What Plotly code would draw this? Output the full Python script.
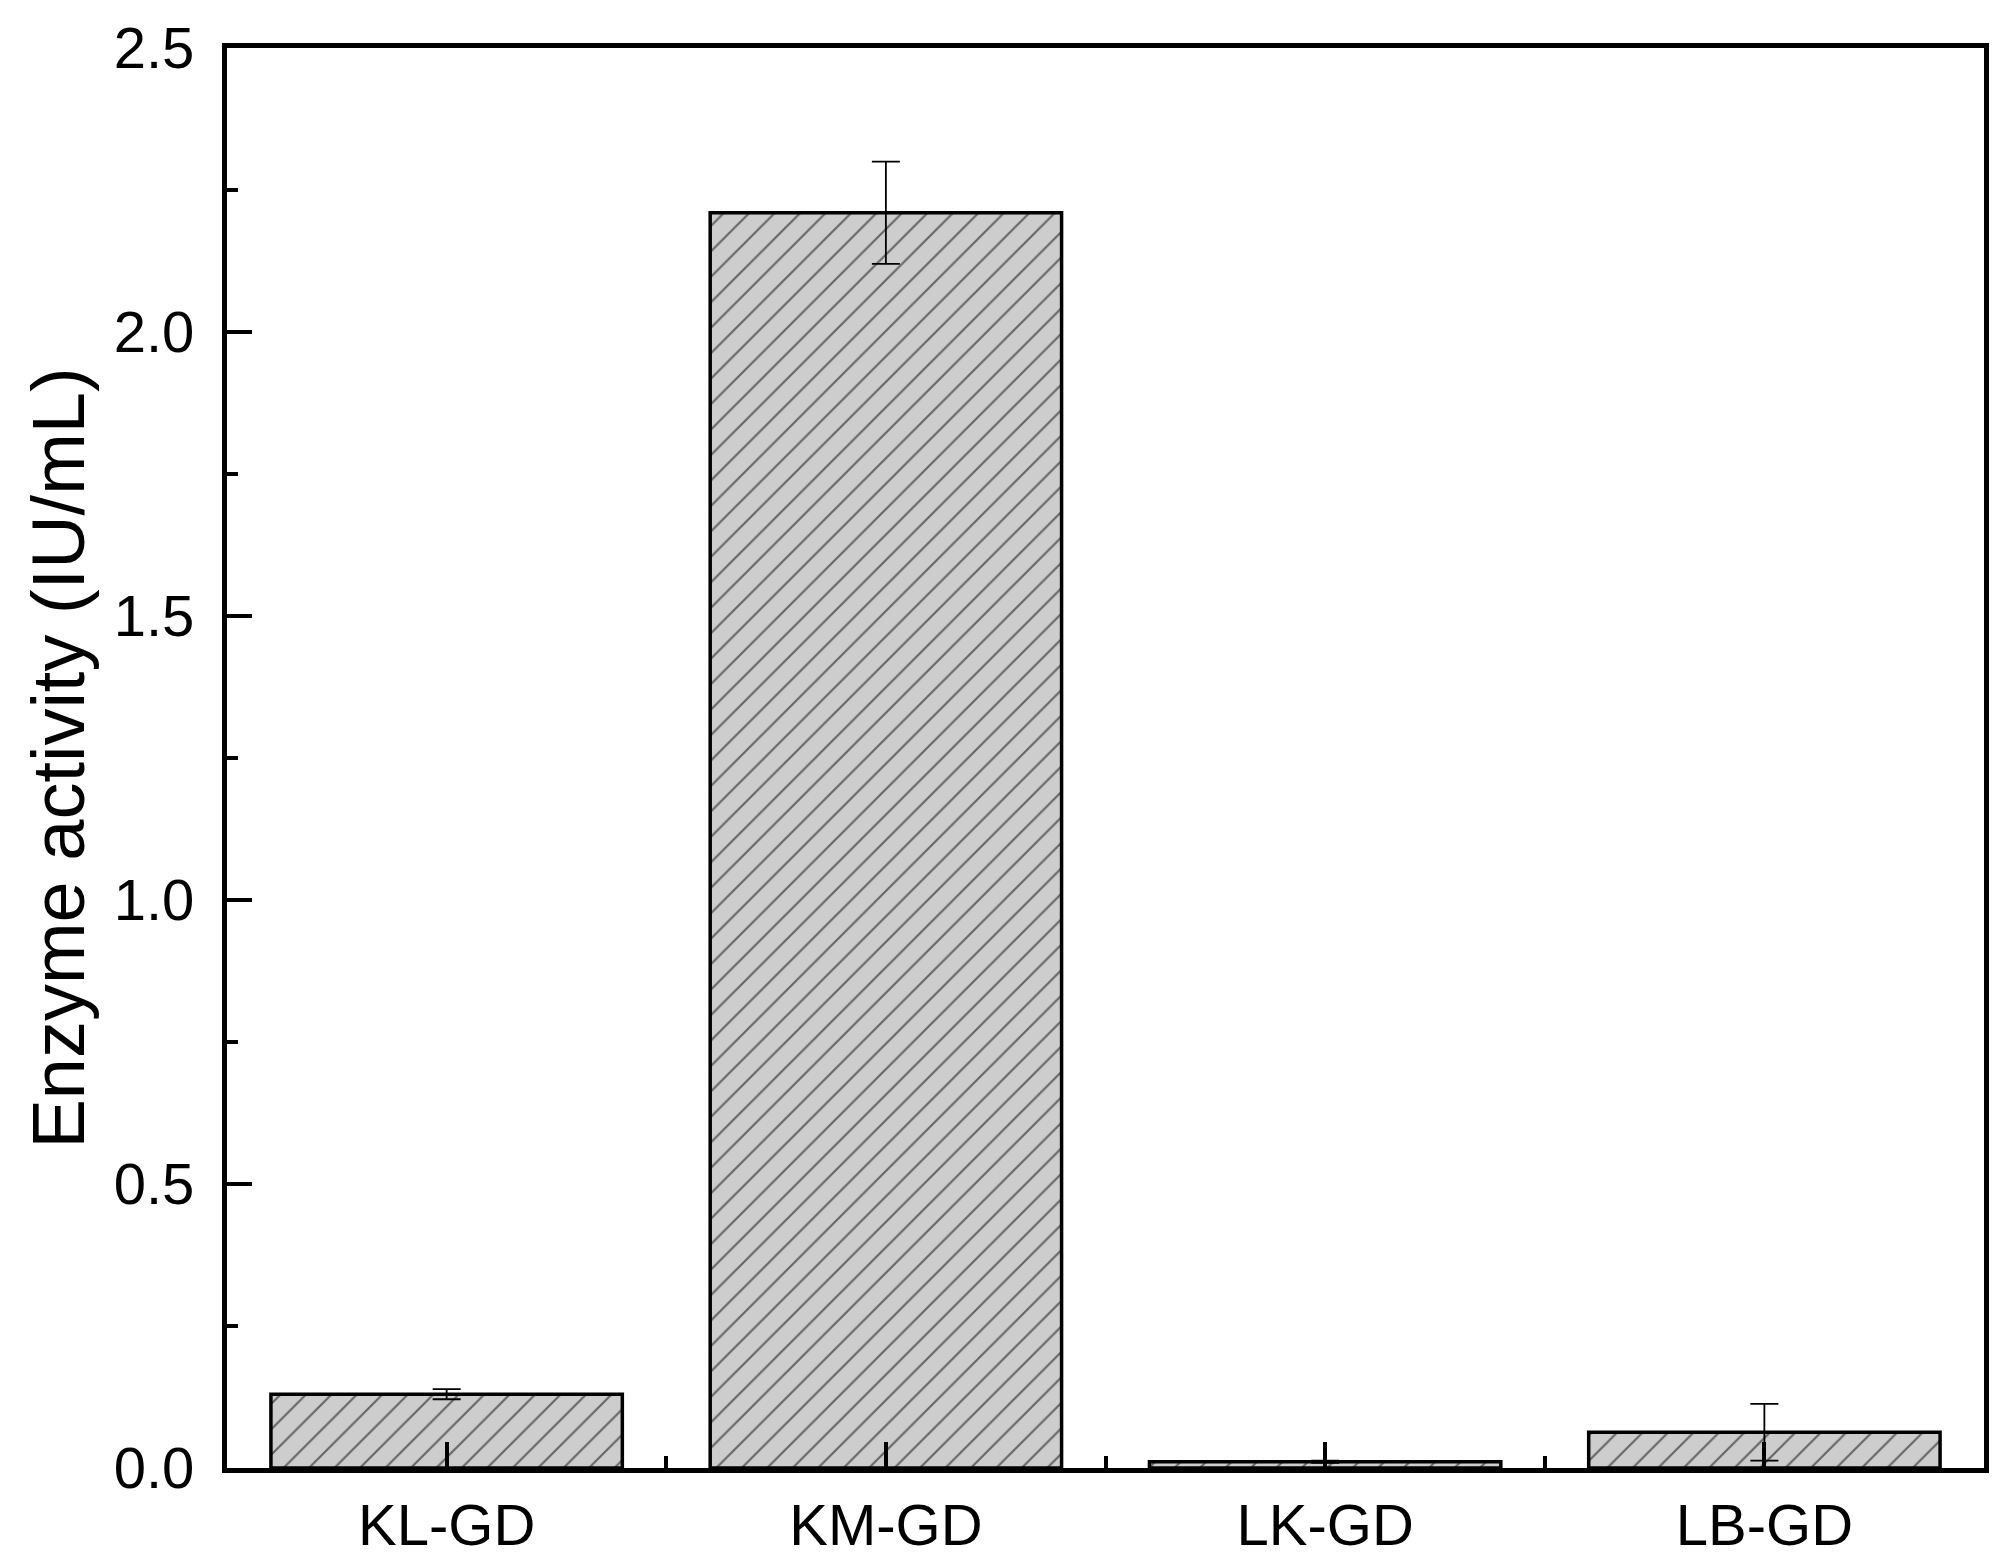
import plotly.graph_objects as go

strains = ["KL-GD", "KM-GD", "LK-GD", "LB-GD"]
activity = [0.13, 2.21, 0.011, 0.063]
activity_err = [0.009, 0.09, 0.002, 0.05]

font_family = "Arial, Liberation Sans, sans-serif"

# use positions on a linear axis so the minor ticks between groups can be drawn
x_pos = list(range(len(strains)))

fig = go.Figure()

fig.add_trace(
    go.Bar(
        x=x_pos,
        y=activity,
        width=0.8,
        marker=dict(
            color="#cdcdcd",
            line=dict(color="black", width=3.5),
            pattern=dict(
                shape="/",
                fgcolor="black",
                bgcolor="#cdcdcd",
                size=18,
                solidity=0.12,
            ),
        ),
        error_y=dict(
            type="data",
            array=activity_err,
            visible=True,
            color="black",
            thickness=1.8,
            width=14,
        ),
        showlegend=False,
    )
)

# invisible copy on an overlay axis, only there to carry the short y ticks
fig.add_trace(
    go.Scatter(
        x=x_pos,
        y=activity,
        yaxis="y2",
        mode="markers",
        marker=dict(opacity=0),
        hoverinfo="skip",
        showlegend=False,
    )
)

# the page body adds an 8px offset, so margins are shifted to compensate
fig.update_layout(
    width=2008,
    height=1564,
    margin=dict(l=219, r=32, t=40, b=104, autoexpand=False),
    plot_bgcolor="white",
    paper_bgcolor="white",
    font=dict(family=font_family, color="black", size=58),
    xaxis=dict(
        range=[-0.5, len(strains) - 0.5],
        tickmode="array",
        tickvals=x_pos,
        ticktext=strains,
        ticks="inside",
        ticklen=26,
        tickwidth=4,
        tickcolor="black",
        ticklabelstandoff=2,
        minor=dict(
            tickmode="array",
            tickvals=[p + 0.5 for p in x_pos[:-1]],
            ticks="inside",
            ticklen=12,
            tickwidth=4,
            tickcolor="black",
            showgrid=False,
        ),
        showline=True,
        linecolor="black",
        linewidth=5,
        mirror=True,
        showgrid=False,
        zeroline=False,
        automargin=False,
        tickfont=dict(size=58),
    ),
    yaxis=dict(
        range=[0, 2.5],
        tick0=0,
        dtick=0.5,
        tickformat=".1f",
        ticksuffix="\u00a0",
        ticks="inside",
        ticklen=25,
        tickwidth=4,
        tickcolor="black",
        showline=True,
        linecolor="black",
        linewidth=5,
        mirror=True,
        showgrid=False,
        zeroline=False,
        automargin=False,
        tickfont=dict(size=58),
        title=dict(
            text="Enzyme activity (IU/mL)",
            font=dict(size=74),
            standoff=6,
        ),
    ),
    yaxis2=dict(
        overlaying="y",
        side="left",
        range=[0, 2.5],
        tick0=0,
        dtick=0.25,
        ticks="inside",
        ticklen=11,
        tickwidth=4,
        tickcolor="black",
        showticklabels=False,
        showline=False,
        showgrid=False,
        zeroline=False,
        automargin=False,
    ),
)

fig.write_html("out.html")
